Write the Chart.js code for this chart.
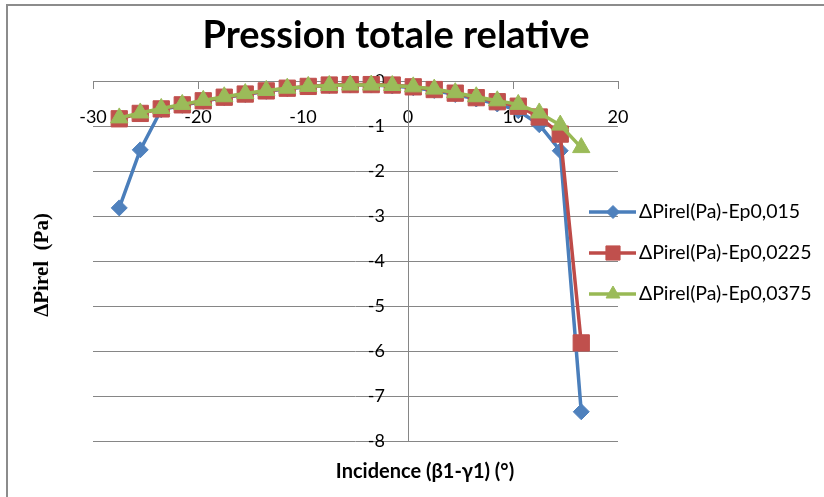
<!DOCTYPE html>
<html><head><meta charset="utf-8">
<script src="https://cdn.jsdelivr.net/npm/chart.js@4/dist/chart.umd.min.js"></script>
<style>
html,body{margin:0;padding:0;background:#fff;overflow:hidden}
#wrap{position:relative;width:824px;height:497px;overflow:hidden}
#frame{position:absolute;left:6px;top:4px;width:900px;height:600px;border-left:2px solid #8c8c8c;border-top:2px solid #8c8c8c}
canvas{position:absolute;left:0;top:0}
</style></head><body>
<div id="wrap"><div id="frame"></div><canvas id="c" width="824" height="497"></canvas></div>
<script>
const incidence = [-27.5,-25.5,-23.5,-21.5,-19.5,-17.5,-15.5,-13.5,-11.5,-9.5,-7.5,-5.5,-3.5,-1.5,0.5,2.5,4.5,6.5,8.5,10.5,12.5,14.5,16.5];
const ep015  = [-2.82,-1.53,-0.64,-0.54,-0.45,-0.37,-0.30,-0.23,-0.17,-0.13,-0.10,-0.09,-0.09,-0.11,-0.15,-0.21,-0.30,-0.40,-0.51,-0.66,-0.97,-1.55,-7.35];
const ep0225 = [-0.84,-0.72,-0.62,-0.53,-0.44,-0.36,-0.29,-0.22,-0.16,-0.12,-0.09,-0.08,-0.08,-0.09,-0.13,-0.19,-0.27,-0.37,-0.46,-0.56,-0.80,-1.18,-5.82];
const ep0375 = [-0.82,-0.71,-0.61,-0.52,-0.43,-0.35,-0.28,-0.21,-0.16,-0.12,-0.10,-0.09,-0.09,-0.10,-0.13,-0.18,-0.26,-0.35,-0.44,-0.52,-0.71,-0.98,-1.48];
const seriesNames = ['ΔPirel(Pa)-Ep0,015','ΔPirel(Pa)-Ep0,0225','ΔPirel(Pa)-Ep0,0375'];
const xTicks = [-30,-20,-10,0,10,20];
const yTicks = [0,-1,-2,-3,-4,-5,-6,-7,-8];
const chartTitle = 'Pression totale relative';
const xTitle = 'Incidence (β1-γ1) (°)';
const yTitle = 'ΔPirel  (Pa)';

const styles = [
  {line:'#4A7EBB', fill:'#4F81BD', pt:'rectRot', r:8, lr:6.5},
  {line:'#BE4B48', fill:'#C0504D', pt:'rect', r:11.5, lr:10},
  {line:'#98B954', fill:'#9BBB59', pt:'triangle', r:10, lr:8}
];
const values = [ep015, ep0225, ep0375];
const datasets = values.map((v,i)=>({
  label: seriesNames[i],
  data: incidence.map((x,k)=>({x:x, y:v[k]})),
  borderColor: styles[i].line,
  backgroundColor: styles[i].fill,
  pointBackgroundColor: styles[i].fill,
  pointBorderColor: styles[i].fill,
  pointStyle: styles[i].pt,
  pointRadius: styles[i].r,
  pointBorderWidth: 1,
  borderWidth: 3.5,
  tension: 0,
  order: 3 - i,
  clip: false
}));

const tickFont = {family:'Lato', size:18};
const gridColor = '#868686';

const textPlugin = {
  id:'texts',
  afterDraw(chart){
    const ctx = chart.ctx;
    ctx.save();
    ctx.fillStyle = '#000';
    ctx.textAlign = 'center';
    ctx.textBaseline = 'middle';
    ctx.font = 'bold 38px Lato';
    ctx.fillText(chartTitle, 396, 36);
    ctx.font = 'bold 20px Lato';
    ctx.fillText(xTitle, 425, 472);
    ctx.save();
    ctx.translate(43, 265);
    ctx.rotate(-Math.PI/2);
    ctx.font = 'bold 21px "Liberation Serif"';
    ctx.fillText(yTitle, 0, 0);
    ctx.restore();
    // legend
    for (let i=0;i<3;i++){
      const y = 212 + 41*i;
      ctx.strokeStyle = styles[i].line;
      ctx.lineWidth = 3.5;
      ctx.beginPath(); ctx.moveTo(589,y); ctx.lineTo(636,y); ctx.stroke();
      ctx.fillStyle = styles[i].fill;
      ctx.strokeStyle = styles[i].fill;
      ctx.lineWidth = 1;
      Chart.helpers.drawPoint(ctx, {pointStyle:styles[i].pt, radius:styles[i].lr, borderWidth:1, rotation:0}, 613, y);
      ctx.fillStyle = '#000';
      ctx.textAlign = 'left';
      ctx.font = '19.5px Lato';
      ctx.fillText(seriesNames[i], 639, y);
    }
    ctx.restore();
  }
};

new Chart(document.getElementById('c'), {
  type:'line',
  data:{datasets},
  options:{
    responsive:false,
    animation:false,
    devicePixelRatio:1,
    layout:{padding:{left:93, right:206, top:81, bottom:56}},
    plugins:{legend:{display:false}, title:{display:false}, tooltip:{enabled:false}},
    scales:{
      x:{
        type:'linear', axis:'x', position:{y:0}, min:-30, max:20,
        afterFit(s){ s.height = 0; },
        afterBuildTicks(s){ s.ticks = xTicks.map(v=>({value:v})); },
        grid:{drawOnChartArea:false, drawTicks:true, tickLength:7, color:gridColor, lineWidth:1},
        border:{display:true, color:gridColor, width:1},
        ticks:{font:tickFont, color:'#000', padding:18, maxRotation:0, autoSkip:false}
      },
      y:{
        type:'linear', axis:'y', position:{x:0}, min:-8, max:0,
        afterFit(s){ s.width = 0; },
        afterBuildTicks(s){ s.ticks = yTicks.map(v=>({value:v})); },
        grid:{drawOnChartArea:true, drawTicks:false, color:gridColor, lineWidth:1},
        border:{display:true, color:gridColor, width:1},
        ticks:{display:false}
      },
      yl:{
        type:'linear', axis:'y', position:{x:-2.2}, min:-8, max:0,
        afterFit(s){ s.width = 0; },
        afterBuildTicks(s){ s.ticks = yTicks.map(v=>({value:v})); },
        grid:{display:false, drawTicks:false},
        border:{display:false},
        ticks:{font:tickFont, color:'#000', padding:0, autoSkip:false}
      }
    }
  },
  plugins:[textPlugin]
});
</script>
</body></html>
